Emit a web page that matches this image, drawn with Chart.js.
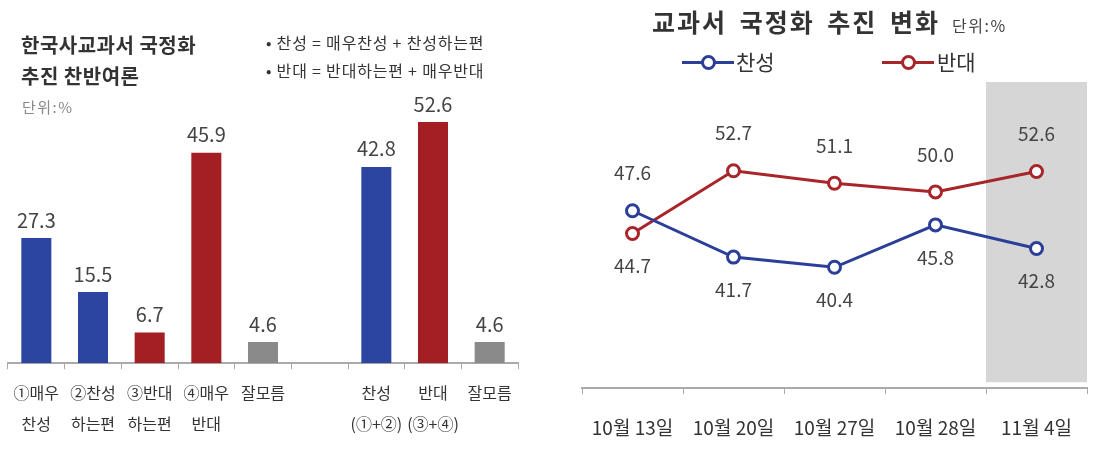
<!DOCTYPE html>
<html><head><meta charset="utf-8">
<script src="https://cdn.jsdelivr.net/npm/chart.js@4/dist/chart.umd.min.js"></script>
<style>
html,body{margin:0;padding:0;background:#fff;width:1120px;height:461px;overflow:hidden;font-family:"Noto Sans CJK KR",sans-serif;}
.abs{position:absolute;white-space:nowrap;}
canvas{position:absolute;top:0;}
.lg{position:absolute;width:52px;height:3px;}
.lg .c{position:absolute;left:19px;top:-6px;width:9px;height:9px;border-radius:50%;background:#fff;border-width:3px;border-style:solid;}
</style></head>
<body>
<canvas id="left" width="560" height="461" style="left:0"></canvas>
<canvas id="right" width="560" height="461" style="left:560px"></canvas>

<div class="abs" style="left:21px;top:29px;font-size:20px;font-weight:bold;color:#333;line-height:31px;letter-spacing:0.5px;">한국사교과서 국정화<br>추진 찬반여론</div>
<div class="abs" style="left:22px;top:96px;font-size:15px;color:#888;letter-spacing:1.5px;">단위:%</div>
<div class="abs" style="left:266px;top:28px;font-size:16px;color:#333;line-height:28px;letter-spacing:0.8px;">• 찬성 = 매우찬성 + 찬성하는편<br>• 반대 = 반대하는편 + 매우반대</div>

<div class="abs" style="left:652px;top:3px;font-size:25px;font-weight:bold;color:#333;letter-spacing:2px;word-spacing:5px;">교과서 국정화 추진 변화</div>
<div class="abs" style="left:952px;top:13px;font-size:16px;color:#444;letter-spacing:1.5px;">단위:%</div>
<div class="lg" style="left:682px;top:61px;background:#2b3f99;"><div class="c" style="border-color:#2b3f99"></div></div>
<div class="abs" style="left:736px;top:46px;font-size:21px;color:#333;">찬성</div>
<div class="lg" style="left:882px;top:61px;background:#a8252a;"><div class="c" style="border-color:#a8252a"></div></div>
<div class="abs" style="left:937px;top:46px;font-size:21px;color:#333;">반대</div>

<script>
// ---- Left chart data ----
const barCategories = [["①매우","찬성"],["②찬성","하는편"],["③반대","하는편"],["④매우","반대"],["잘모름"],[""],["찬성","(①+②)"],["반대","(③+④)"],["잘모름"]];
const barValues = [27.3, 15.5, 6.7, 45.9, 4.6, null, 42.8, 52.6, 4.6];
const barGroups = ["pro","pro","con","con","dk",null,"pro","con","dk"];

// ---- Right chart data ----
const dates = ["10월 13일","10월 20일","10월 27일","10월 28일","11월 4일"];
const proValues = [47.6, 41.7, 40.4, 45.8, 42.8];
const conValues = [44.7, 52.7, 51.1, 50.0, 52.6];

const FONT = '"Noto Sans CJK KR", sans-serif';
const groupColor = {pro:'#2c45a0', con:'#a31f24', dk:'#8a8a8a'};

const barLabelPlugin = {
  id:'barLabels',
  afterDatasetsDraw(chart){
    const ctx = chart.ctx;
    const meta = chart.getDatasetMeta(0);
    ctx.save();
    ctx.font = '20px ' + FONT;
    ctx.fillStyle = '#444';
    ctx.textAlign = 'center';
    ctx.textBaseline = 'bottom';
    meta.data.forEach((el, i) => {
      const v = chart.data.datasets[0].data[i];
      if (v == null) return;
      ctx.fillText(v.toFixed(1), el.x, el.y - 8);
    });
    ctx.restore();
  }
};

new Chart(document.getElementById('left'), {
  type:'bar',
  data:{ labels: barCategories,
    datasets:[{ data: barValues,
      backgroundColor: barGroups.map(g => g ? groupColor[g] : 'transparent'),
      categoryPercentage: 1.0, barPercentage: 0.53 }]},
  options:{
    responsive:false, animation:false,
    layout:{ padding:{ left:8, right:42, top:88, bottom:13 } },
    plugins:{ legend:{display:false}, tooltip:{enabled:false} },
    scales:{
      y:{ display:false, min:0, max:60 },
      x:{
        grid:{ display:true, drawOnChartArea:false, drawTicks:true, tickLength:6, color:'#aaa', offset:true },
        border:{ display:true, color:'#aaa', width:2 },
        ticks:{ color:'#333', padding:9, font:{ family:FONT, size:16, lineHeight:1.9 }, maxRotation:0, autoSkip:false }
      }
    }
  },
  plugins:[barLabelPlugin]
});

const shadePlugin = {
  id:'shade',
  beforeDatasetsDraw(chart){
    const {ctx, chartArea, scales} = chart;
    const x = scales.x;
    const n = chart.data.labels.length;
    const half = (x.getPixelForValue(1) - x.getPixelForValue(0)) / 2;
    const left = x.getPixelForValue(n-1) - half;
    ctx.save();
    ctx.fillStyle = '#d6d6d6';
    ctx.fillRect(left, chartArea.top, chartArea.right - left, chartArea.bottom - chartArea.top - 6);
    ctx.restore();
  }
};

const lineLabelPlugin = {
  id:'lineLabels',
  afterDatasetsDraw(chart){
    const ctx = chart.ctx;
    ctx.save();
    ctx.font = '19px ' + FONT;
    ctx.fillStyle = '#444';
    ctx.textAlign = 'center';
    const ds = chart.data.datasets;
    ds.forEach((d, di) => {
      const other = ds[1-di].data;
      chart.getDatasetMeta(di).data.forEach((el, i) => {
        const v = d.data[i];
        const above = v >= other[i];
        ctx.textBaseline = above ? 'bottom' : 'top';
        ctx.fillText(v.toFixed(1), el.x, above ? el.y - 28 : el.y + 23);
      });
    });
    ctx.restore();
  }
};

new Chart(document.getElementById('right'), {
  type:'line',
  data:{ labels: dates,
    datasets:[
      { label:'찬성', data: proValues, borderColor:'#2b3f99', backgroundColor:'#fff', borderWidth:3,
        pointRadius:6, pointBorderWidth:3, pointBackgroundColor:'#fff', pointBorderColor:'#2b3f99', tension:0 },
      { label:'반대', data: conValues, borderColor:'#a8252a', backgroundColor:'#fff', borderWidth:3,
        pointRadius:6, pointBorderWidth:3, pointBackgroundColor:'#fff', pointBorderColor:'#a8252a', tension:0 }
    ]},
  options:{
    responsive:false, animation:false,
    layout:{ padding:{ left:22, right:33, top:82, bottom:0 } },
    plugins:{ legend:{display:false}, tooltip:{enabled:false} },
    scales:{
      y:{ display:false, min:25, max:64 },
      x:{ offset:true,
        grid:{ display:true, drawOnChartArea:false, drawTicks:true, tickLength:6, color:'#aaa', offset:true },
        border:{ display:true, color:'#aaa', width:2 },
        ticks:{ color:'#333', padding:22, font:{ family:FONT, size:19 }, maxRotation:0, autoSkip:false }
      }
    }
  },
  plugins:[shadePlugin, lineLabelPlugin]
});
</script>
</body></html>
